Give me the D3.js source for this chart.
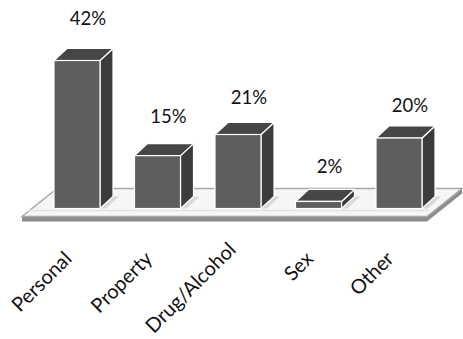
<!DOCTYPE html>
<html>
<head>
<meta charset="utf-8">
<script src="https://cdn.jsdelivr.net/npm/d3@7"></script>
<style>
  html, body { margin: 0; padding: 0; background: #fff; }
  svg { display: block; }
  text { font-family: Lato, "Open Sans", sans-serif; fill: #111; }
</style>
</head>
<body>
<svg id="chart" width="463" height="339"></svg>
<script>
// Offence categories and their share of cases (%)
const categories = ["Personal", "Property", "Drug/Alcohol", "Sex", "Other"];
const shares = [42, 15, 21, 2, 20];
const valueLabels = ["42%", "15%", "21%", "2%", "20%"];

const W = 463, H = 339;
const svg = d3.select("#chart");

const x = d3.scaleBand()
  .domain(categories)
  .range([54, 422])
  .paddingInner(0.4286)
  .paddingOuter(0);

const y = d3.scaleLinear()
  .domain([0, 45])
  .range([208.5, 208.5 - 45 * 3.524]);

// depth offset for the 3-D bars and the floor
const dx = 13, dy = -12;
const fdx = 35, fdy = -28;

const base = y(0);
const bw = x.bandwidth();
const pts = a => a.map(p => p.join(",")).join(" ");

// Floor slab
const fx0 = x.range()[0] - 32, fx1 = x.range()[1] + 5;
const fyFront = base + 8;
const floor = svg.append("g");
floor.append("polygon")
  .attr("points", pts([
    [fx0, fyFront + 5], [fx1, fyFront + 5], [fx1 + fdx, fyFront + fdy + 5],
    [fx1 + fdx, fyFront + fdy], [fx1, fyFront], [fx0, fyFront]
  ]))
  .attr("fill", "#8c8c8c");
floor.append("polygon")
  .attr("points", pts([
    [fx0, fyFront], [fx0 + fdx, fyFront + fdy], [fx1 + fdx, fyFront + fdy], [fx1, fyFront]
  ]))
  .attr("fill", "#f6f6f6")
  .attr("stroke", "#a8a8a8")
  .attr("stroke-width", 1.5);
floor.append("line")
  .attr("x1", fx0 + 6).attr("x2", fx1 + 2)
  .attr("y1", base + 2).attr("y2", base + 2)
  .attr("stroke", "#e2e2e2").attr("stroke-width", 1.5);

// Bars
const bars = svg.append("g").selectAll("g")
  .data(categories)
  .join("g");

bars.each(function(c, i) {
  const g = d3.select(this);
  const x0 = x(c), x1 = x0 + bw;
  const yt = y(shares[i]);
  // floor shadow behind the bar
  g.append("polygon")
    .attr("points", pts([[x1, base], [x1 + dx, base + dy], [x1 + dx + 6, base + dy], [x1 + 6, base]]))
    .attr("fill", "#d8d8d8");
  // side face
  g.append("polygon")
    .attr("points", pts([[x1, yt], [x1 + dx, yt + dy], [x1 + dx, base + dy], [x1, base]]))
    .attr("fill", "#3c3c3c").attr("stroke", "#fff").attr("stroke-width", 1.2)
    .attr("stroke-linejoin", "round");
  // top face
  g.append("polygon")
    .attr("points", pts([[x0, yt], [x0 + dx, yt + dy], [x1 + dx, yt + dy], [x1, yt]]))
    .attr("fill", "#464646").attr("stroke", "#fff").attr("stroke-width", 1.2)
    .attr("stroke-linejoin", "round");
  // front face
  g.append("rect")
    .attr("x", x0).attr("y", yt)
    .attr("width", bw).attr("height", base - yt)
    .attr("fill", "#5e5e5e").attr("stroke", "#fff").attr("stroke-width", 1.2);
});

// Value labels above the bars
svg.append("g").selectAll("text")
  .data(categories)
  .join("text")
  .attr("x", c => x(c) + bw / 2 + 11)
  .attr("y", (c, i) => y(shares[i]) - 35 + 2.2 * i)
  .attr("text-anchor", "middle")
  .attr("font-size", 18.5)
  .text((c, i) => valueLabels[i]);

// Category labels, rotated; a label that would run off the bottom is lifted to fit
const labelY = 260;
svg.append("g").selectAll("text")
  .data(categories)
  .join("text")
  .attr("text-anchor", "end")
  .attr("font-size", 20)
  .attr("transform", c => `translate(${x(c) + bw / 2 - 4},${labelY}) rotate(-45)`)
  .text(c => c)
  .each(function(c) {
    const r = this.getBoundingClientRect();
    const over = r.bottom - (H - 2);
    if (over > 0) {
      d3.select(this).attr("transform",
        `translate(${x(c) + bw / 2 - 1},${labelY - over}) rotate(-45)`);
    }
  });
</script>
</body>
</html>
